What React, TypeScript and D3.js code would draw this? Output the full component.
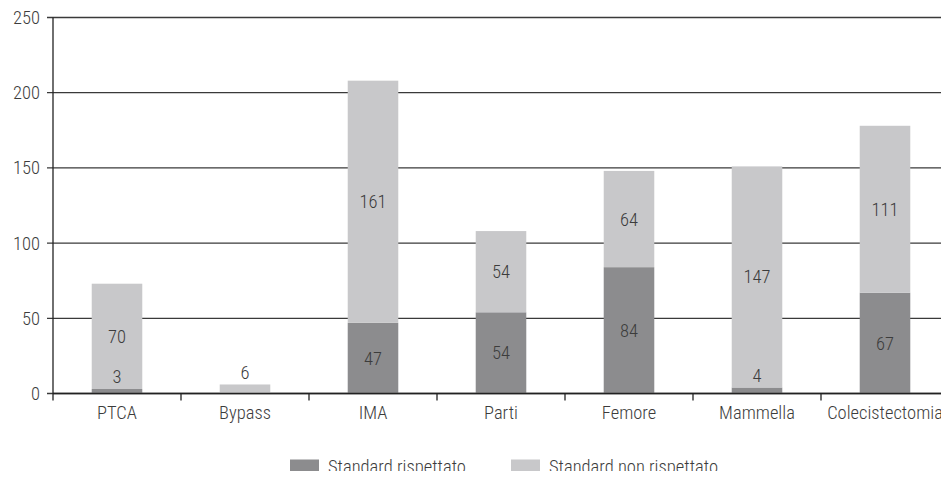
import React from "react";
import * as d3 from "d3";

const categories = ["PTCA", "Bypass", "IMA", "Parti", "Femore", "Mammella", "Colecistectomia"];
const rispettato = [3, 0, 47, 54, 84, 4, 67];
const nonRispettato = [70, 6, 161, 54, 64, 147, 111];
const yTicks = [0, 50, 100, 150, 200, 250];
const seriesNames = ["Standard rispettato", "Standard non rispettato"];
const colors = ["#8c8c8e", "#c8c8ca"];

const W = 949;
const H = 479;
const FONT = "'Liberation Sans Narrow', 'Roboto Condensed', 'Arial Narrow', 'Liberation Sans', sans-serif";

export default function App() {
  const left = 53, right = 949, top = 17.5, bottom = 393.5;
  const x = d3.scaleBand<string>().domain(categories).range([left, right]).paddingInner(0).paddingOuter(0);
  const y = d3.scaleLinear().domain([0, 250]).range([bottom, top]);
  const bw = x.bandwidth() * 0.395;
  const textColor = "#3c3c3c";
  const fs = 18.5;

  const stacks = d3.stack<any>().keys(["r", "n"])(
    categories.map((c, i) => ({ c, r: rispettato[i], n: nonRispettato[i] }))
  );

  return (
    <div style={{ margin: -8 }}>
      <svg width={W} height={H} style={{ display: "block", background: "#fff" }} fontFamily={FONT} fontWeight={300}>
        {yTicks.map((t) => (
          <g key={t}>
            <line x1={left - 6} x2={right} y1={y(t)} y2={y(t)} stroke="#3a3a3a" strokeWidth={1.3} />
            <text x={40} y={y(t)} dy="0.35em" textAnchor="end" fontSize={fs} fill={textColor}>
              {t}
            </text>
          </g>
        ))}
        {stacks.map((s, si) =>
          s.map((d, i) => {
            const v = d[1] - d[0];
            if (v <= 0) return null;
            const cx = (x(categories[i]) as number) + x.bandwidth() / 2;
            return (
              <rect
                key={si + "-" + i}
                x={cx - bw / 2}
                width={bw}
                y={y(d[1])}
                height={y(d[0]) - y(d[1])}
                fill={colors[si]}
              />
            );
          })
        )}
        <line x1={left} x2={left} y1={top} y2={bottom} stroke="#222" strokeWidth={1.3} />
        <line x1={left} x2={right} y1={bottom} y2={bottom} stroke="#222" strokeWidth={1.3} />
        {categories.map((c, i) => (
          <line key={"t" + i} x1={x(c)} x2={x(c)} y1={bottom} y2={bottom + 7} stroke="#222" strokeWidth={1.3} />
        ))}
        <line x1={right - 1} x2={right - 1} y1={bottom} y2={bottom + 7} stroke="#222" strokeWidth={1.3} />
        {stacks.map((s, si) =>
          s.map((d, i) => {
            const v = d[1] - d[0];
            if (v <= 0) return null;
            const cx = (x(categories[i]) as number) + x.bandwidth() / 2;
            const h = y(d[0]) - y(d[1]);
            const ly = h < 16 ? y(d[1]) - 12 : (y(d[0]) + y(d[1])) / 2;
            return (
              <text key={"l" + si + "-" + i} x={cx} y={ly} dy="0.35em" textAnchor="middle" fontSize={fs} fill={textColor}>
                {v}
              </text>
            );
          })
        )}
        {categories.map((c) => (
          <text key={"x" + c} x={(x(c) as number) + x.bandwidth() / 2} y={419} textAnchor="middle" fontSize={fs} fill={textColor}>
            {c}
          </text>
        ))}
        {seriesNames.map((n, i) => {
          const lx = i === 0 ? 290 : 511;
          return (
            <g key={n}>
              <rect x={lx} y={459.5} width={29} height={16} fill={colors[i]} />
              <text x={lx + 38} y={473} fontSize={fs} fill={textColor}>
                {n}
              </text>
            </g>
          );
        })}
      </svg>
    </div>
  );
}
